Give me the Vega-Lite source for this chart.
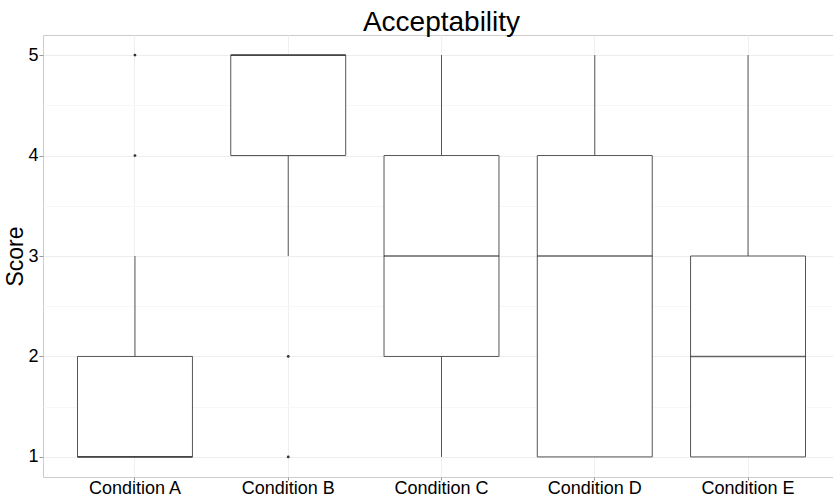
{
  "$schema": "https://vega.github.io/schema/vega-lite/v6.json",
  "width": 797,
  "height": 442,
  "autosize": {"type": "none"},
  "padding": {"left": 43, "top": 35, "right": 0, "bottom": 19},
  "background": "white",
  "title": {"text": "Acceptability", "fontSize": 28, "font": "Liberation Sans", "fontWeight": "normal", "color": "#000000", "anchor": "middle", "offset": -2},
  "config": {"view": {"stroke": "#cccccc", "strokeWidth": 1}, "font": "Liberation Sans"},
  "datasets": {
    "boxes": [
      {"cond": "Condition A", "lower": 1, "q1": 1, "median": 1, "q3": 2, "upper": 3},
      {"cond": "Condition B", "lower": 3, "q1": 4, "median": 5, "q3": 5, "upper": 5},
      {"cond": "Condition C", "lower": 1, "q1": 2, "median": 3, "q3": 4, "upper": 5},
      {"cond": "Condition D", "lower": 1, "q1": 1, "median": 3, "q3": 4, "upper": 5},
      {"cond": "Condition E", "lower": 1, "q1": 1, "median": 2, "q3": 3, "upper": 5}
    ],
    "outliers": [
      {"cond": "Condition A", "value": 4},
      {"cond": "Condition A", "value": 5},
      {"cond": "Condition B", "value": 2},
      {"cond": "Condition B", "value": 1}
    ]
  },
  "encoding": {
    "x": {
      "field": "cond", "type": "nominal",
      "scale": {"domain": ["Condition A", "Condition B", "Condition C", "Condition D", "Condition E"], "paddingInner": 0.25, "paddingOuter": 0.225},
      "axis": {"title": null, "labelFontSize": 18, "labelColor": "#000000", "labelAngle": 0, "tickColor": "#999999", "tickSize": 3, "labelPadding": -1, "domain": false, "grid": true, "gridColor": "#f0f0f0"}
    }
  },
  "layer": [
    {
      "data": {"name": "boxes"},
      "mark": {"type": "rule", "color": "#555555", "strokeWidth": 1},
      "encoding": {
        "y": {"field": "lower", "type": "quantitative", "scale": {"domain": [0.8, 5.2], "nice": false, "zero": false},
          "axis": {"title": "Score", "titleFontSize": 23, "titleFontWeight": "normal", "titleColor": "#000000", "titlePadding": 0,
            "labelFontSize": 18, "labelColor": "#000000", "labelPadding": 1, "tickSize": 4, "tickColor": "#999999", "domain": false,
            "values": [1, 1.5, 2, 2.5, 3, 3.5, 4, 4.5, 5],
            "labelExpr": "datum.value % 1 == 0 ? format(datum.value, 'd') : ''",
            "tickOpacity": {"condition": {"test": "datum.value % 1 != 0", "value": 0}, "value": 1},
            "gridColor": {"condition": {"test": "datum.value % 1 != 0", "value": "#f7f7f7"}, "value": "#ededed"}}},
        "y2": {"field": "upper"}
      }
    },
    {
      "data": {"name": "boxes"},
      "mark": {"type": "bar", "fill": "white", "stroke": "#555555", "strokeWidth": 1},
      "encoding": {
        "y": {"field": "q1", "type": "quantitative", "title": "Score"},
        "y2": {"field": "q3"}
      }
    },
    {
      "data": {"name": "boxes"},
      "mark": {"type": "tick", "color": "#222222", "thickness": 1.6, "size": 115},
      "encoding": {
        "y": {"field": "median", "type": "quantitative", "title": "Score"}
      }
    },
    {
      "data": {"name": "outliers"},
      "mark": {"type": "point", "filled": true, "color": "#333333", "size": 8, "opacity": 1},
      "encoding": {
        "y": {"field": "value", "type": "quantitative", "title": "Score"}
      }
    }
  ]
}
